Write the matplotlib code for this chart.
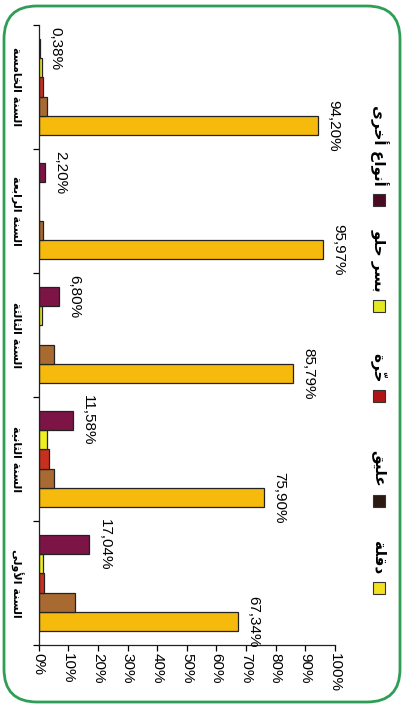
import matplotlib
matplotlib.use("Agg")
import matplotlib.pyplot as plt
from matplotlib.patches import FancyBboxPatch, Rectangle
import numpy as np

plt.rcParams['font.family'] = ['Liberation Sans', 'DejaVu Sans']

# data
categories = ['السنة الأولى', 'السنة الثانية', 'السنة الثالثة', 'السنة الرابعة', 'السنة الخامسة']
series_names = ['دقلة', 'عليق', 'حرّة', 'بسر حلو', 'أنواع أخرى']
deglet = [67.34, 75.90, 85.79, 95.97, 94.20]
alig = [12.2, 5.3, 5.3, 1.3, 2.9]
horra = [1.7, 3.5, 0.2, 0.0, 1.5]
bser = [1.3, 2.9, 1.1, 0.0, 1.0]
other = [17.04, 11.58, 6.80, 2.20, 0.38]
values = [deglet, alig, horra, bser, other]
labelled = [0, 4]  # series that carry value labels

bar_colors = ['#F5BA0C', '#A86A30', '#C8301E', '#EEEE22', '#7C1446']
legend_colors = ['#F2DF1E', '#2B1A12', '#B01515', '#E4E81E', '#4A0B22']

# --- tiny arabic shaper (matplotlib does no shaping / bidi) ---
FORMS = {
    'ا': (0xFE8D, 0xFE8E, None, None),
    'أ': (0xFE83, 0xFE84, None, None),
    'ب': (0xFE8F, 0xFE90, 0xFE91, 0xFE92),
    'ة': (0xFE93, 0xFE94, None, None),
    'ت': (0xFE95, 0xFE96, 0xFE97, 0xFE98),
    'ث': (0xFE99, 0xFE9A, 0xFE9B, 0xFE9C),
    'ح': (0xFEA1, 0xFEA2, 0xFEA3, 0xFEA4),
    'خ': (0xFEA5, 0xFEA6, 0xFEA7, 0xFEA8),
    'د': (0xFEA9, 0xFEAA, None, None),
    'ر': (0xFEAD, 0xFEAE, None, None),
    'س': (0xFEB1, 0xFEB2, 0xFEB3, 0xFEB4),
    'ع': (0xFEC9, 0xFECA, 0xFECB, 0xFECC),
    'ق': (0xFED5, 0xFED6, 0xFED7, 0xFED8),
    'ل': (0xFEDD, 0xFEDE, 0xFEDF, 0xFEE0),
    'م': (0xFEE1, 0xFEE2, 0xFEE3, 0xFEE4),
    'ن': (0xFEE5, 0xFEE6, 0xFEE7, 0xFEE8),
    'و': (0xFEED, 0xFEEE, None, None),
    'ى': (0xFEEF, 0xFEF0, None, None),
    'ي': (0xFEF1, 0xFEF2, 0xFEF3, 0xFEF4),
}
LAM_ALEF = {'ا': (0xFEFB, 0xFEFC), 'أ': (0xFEF7, 0xFEF8)}
MARKS = '\u0651\u064E\u064F\u0650\u0652'


def shape(txt):
    # tokens: [base, marks, forms]
    toks = []
    i = 0
    while i < len(txt):
        c = txt[i]
        if c in MARKS and toks:
            toks[-1][1] += c
            i += 1
            continue
        if c == 'ل' and i + 1 < len(txt) and txt[i + 1] in LAM_ALEF:
            f = LAM_ALEF[txt[i + 1]]
            toks.append([c, '', (f[0], f[1], None, None)])
            i += 2
            continue
        toks.append([c, '', FORMS.get(c)])
        i += 1
    out = []
    for k, (c, m, f) in enumerate(toks):
        if f is None:
            out.append(c + m)
            continue
        prev = toks[k - 1][2] if k > 0 else None
        nxt = toks[k + 1][2] if k + 1 < len(toks) else None
        jp = prev is not None and prev[2] is not None
        jn = f[2] is not None and nxt is not None
        if jp and jn:
            g = f[3]
        elif jp:
            g = f[1]
        elif jn:
            g = f[2]
        else:
            g = f[0]
        out.append(chr(g) + m)
    return ''.join(out[::-1])


fig = plt.figure(figsize=(4.09, 7.07), dpi=100)
fig.patch.set_facecolor('white')

# rounded green frame
frame = FancyBboxPatch((0.04, 0.05), 3.96, 6.96,
                       boxstyle="round,pad=0,rounding_size=0.33",
                       transform=fig.dpi_scale_trans, facecolor='none',
                       edgecolor='#2E9E55', linewidth=2.0)
fig.patches.append(frame)

ax = fig.add_axes([38.7 / 409, 1 - 645 / 707, (335 - 38.7) / 409, (645 - 25) / 707])
ax.set_facecolor('none')

y = np.arange(len(categories))
w = 0.155
for j, vals in enumerate(values):
    bars = ax.barh(y + (j - 2) * w, vals, height=w, color=bar_colors[j],
                   edgecolor='#222222', linewidth=0.9)
    if j in labelled:
        for b, v in zip(bars, vals):
            ax.annotate(('%.2f%%' % v).replace('.', ','),
                        (b.get_width(), b.get_y() + b.get_height() / 2),
                        xytext=(6, 0), textcoords='offset points',
                        ha='left', va='center', rotation=270, fontsize=11)

ax.set_xlim(0, 100)
ax.set_ylim(-0.5, 4.5)
ax.set_xticks(np.arange(0, 101, 10))
ax.set_xticklabels(['%d%%' % t for t in range(0, 101, 10)], rotation=270, fontsize=11)
ax.tick_params(axis='x', length=4, width=0.9, pad=2)

ax.set_yticks(y)
ax.set_yticklabels([shape(c) for c in categories], rotation=270,
                   family='DejaVu Sans', fontweight='bold', fontsize=8,
                   ha='center', va='center')
ax.set_yticks(np.arange(-0.5, 5, 1), minor=True)
ax.tick_params(axis='y', which='major', length=0, pad=16)
ax.tick_params(axis='y', which='minor', length=4, width=0.9)

for s in ['top', 'right']:
    ax.spines[s].set_visible(False)
for s in ['left', 'bottom']:
    ax.spines[s].set_linewidth(0.9)
    ax.spines[s].set_color('#222222')

# legend drawn by hand, rotated like the rest
H = 707.0
legend_y = [588, 501, 396, 306, 200]
for j, yc in enumerate(legend_y):
    sq = 12
    fig.patches.append(Rectangle(((379 - sq / 2) / 409, (H - yc - sq / 2) / H),
                                 sq / 409, sq / H, transform=fig.transFigure,
                                 facecolor=legend_colors[j], edgecolor='#333333',
                                 linewidth=0.8))
    fig.text(379 / 409, (H - yc + 14) / H, shape(series_names[j]),
             rotation=270, ha='center', va='bottom', family='DejaVu Sans',
             fontweight='bold', fontsize=11)

fig.savefig('out.png', dpi=100)
